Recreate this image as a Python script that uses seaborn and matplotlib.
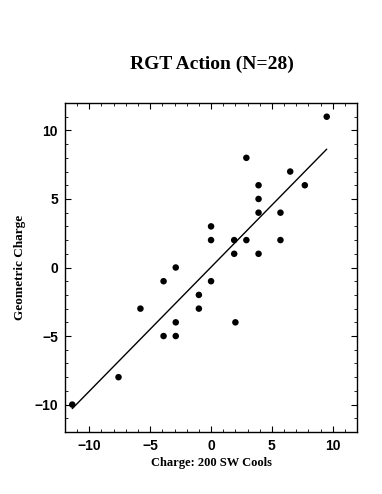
import matplotlib
matplotlib.use("Agg")
import matplotlib.pyplot as plt
import pandas as pd
import seaborn as sns
from matplotlib.ticker import MultipleLocator

# Charge: 200 SW Cools vs Geometric Charge
sw_cools = [9.5, 2.9, 6.5, 3.9, 7.7, 3.9, 3.9, 5.7, 0.0, 0.0, 1.9, 2.9, 5.7, 1.9,
            3.9, -2.9, -3.9, 0.0, -1.0, -5.8, -1.0, -2.9, 2.0, -3.9, -2.9, -7.6,
            -11.4]
geometric = [11, 8, 7, 6, 6, 5, 4, 4, 3, 2, 2, 2, 2, 1,
             1, 0, -1, -1, -2, -3, -3, -4, -4, -5, -5, -8,
             -10]

df = pd.DataFrame({"x": sw_cools, "y": geometric})

sns.set_theme(style="white", rc={
    "text.color": "black",
    "axes.labelcolor": "black",
    "xtick.color": "black",
    "ytick.color": "black",
})

fig = plt.figure(figsize=(3.82, 4.94), dpi=100)
ax = fig.add_axes([0.170, 0.1255, 0.765, 0.666])

sns.regplot(
    data=df, x="x", y="y", ax=ax, ci=None, color="black",
    scatter_kws={"s": 22, "edgecolor": "none", "alpha": 1},
    line_kws={"linewidth": 1.0},
)

ax.set_xlim(-12, 12)
ax.set_ylim(-12, 12)
ax.xaxis.set_major_locator(MultipleLocator(5))
ax.yaxis.set_major_locator(MultipleLocator(5))
ax.xaxis.set_minor_locator(MultipleLocator(1))
ax.yaxis.set_minor_locator(MultipleLocator(1))
ax.tick_params(which="both", direction="in", top=True, right=True,
               bottom=True, left=True, color="black")
ax.tick_params(which="major", length=4, width=0.8, labelsize=10, pad=5)
ax.tick_params(which="minor", length=2, width=0.6)
for lab in ax.get_xticklabels() + ax.get_yticklabels():
    lab.set_fontweight("bold")
    lab.set_family("Liberation Sans")
for s in ax.spines.values():
    s.set_color("black")
    s.set_linewidth(1.0)

ax.set_xlabel("Charge: 200 SW Cools", fontsize=9, fontweight="bold",
              family="Liberation Serif", labelpad=3)
ax.set_ylabel("Geometric Charge", fontsize=9.5, fontweight="bold",
              family="Liberation Serif", labelpad=6)
fig.text(0.555, 0.869, "RGT Action (N=28)", ha="center", va="center",
         fontsize=14, fontweight="bold", family="Liberation Serif")

fig.savefig("out.png", dpi=100)
